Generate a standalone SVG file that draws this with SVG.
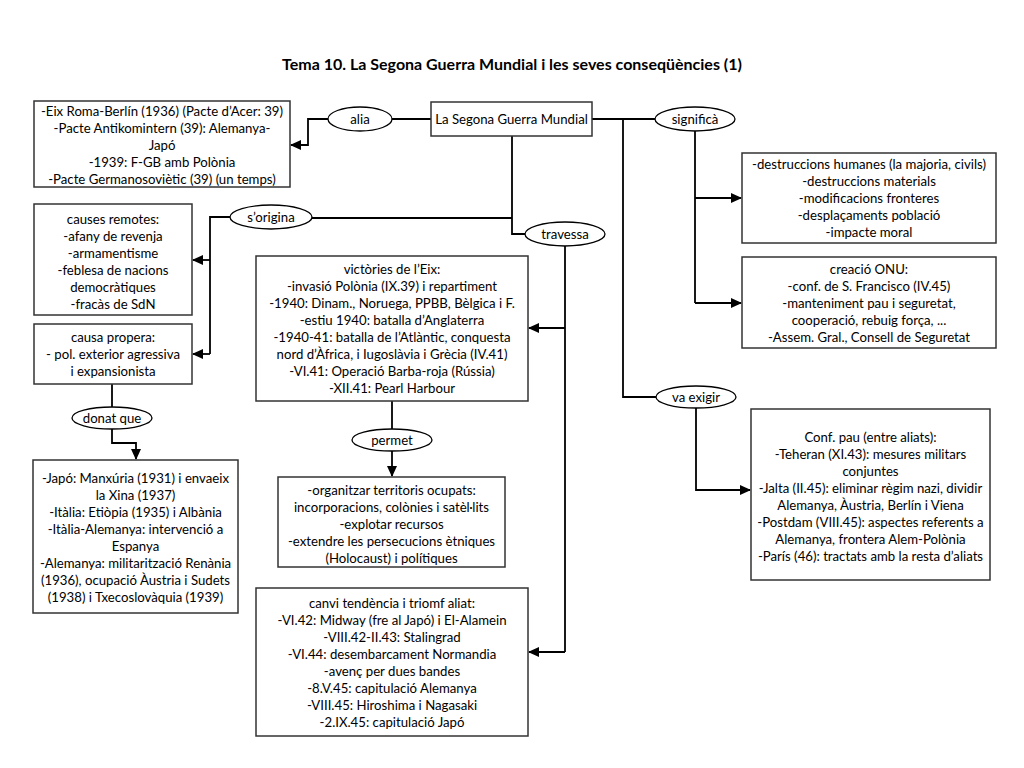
<svg xmlns="http://www.w3.org/2000/svg" width="1024" height="768" viewBox="0 0 1024 768">
<defs>
<marker id="arr" markerUnits="userSpaceOnUse" markerWidth="11" markerHeight="10" refX="10" refY="5" orient="auto">
<path d="M0,0 L11,5 L0,10 z" fill="#000"/>
</marker>
<style>
.box{fill:#fff;stroke:#333;stroke-width:1.5}
.ell{fill:#fff;stroke:#000;stroke-width:1.3}
.t{font-family:Lato,"Open Sans","Liberation Sans",sans-serif;font-size:13.2px;fill:#000;text-anchor:middle}
.title{font-family:Lato,"Open Sans","Liberation Sans",sans-serif;font-size:16px;font-weight:bold;fill:#000;text-anchor:middle}
.c{fill:none;stroke:#000;stroke-width:1.8}
.ca{fill:none;stroke:#000;stroke-width:1.8;marker-end:url(#arr)}
</style>
</defs>
<rect width="1024" height="768" fill="#fff"/>
<text class="title" x="512" y="70">Tema 10. La Segona Guerra Mundial i les seves conseqüències (1)</text>

<g id="connectors">
<path class="ca" d="M328,119 H308 V145 H291"/>
<path class="c" d="M392,119 H431"/>
<path class="c" d="M592,119 H655"/>
<path class="c" d="M623,119 V397 H656"/>
<path class="c" d="M695,131 V303"/>
<path class="ca" d="M695,198 H741"/>
<path class="ca" d="M695,303 H741"/>
<path class="ca" d="M696,408 V490 H750"/>
<path class="c" d="M512,136 V234 H525"/>
<path class="c" d="M312,218 H512"/>
<path class="c" d="M230,217 H210 V354"/>
<path class="ca" d="M210,260 H193"/>
<path class="ca" d="M210,354 H193"/>
<path class="c" d="M112,384 V407"/>
<path class="ca" d="M112,429 V443 H136 V459"/>
<path class="c" d="M565,246 V652"/>
<path class="ca" d="M565,328 H529"/>
<path class="ca" d="M565,652 H529"/>
<path class="c" d="M392,401 V429"/>
<path class="ca" d="M392,451 V476"/>
</g>

<g id="n-aliances">
<rect class="box" x="34" y="101" width="256" height="86"/>
<text class="t" x="162" y="116">-Eix Roma-Berlín (1936) (Pacte d’Acer: 39)</text>
<text class="t" x="162" y="133">-Pacte Antikomintern (39): Alemanya-</text>
<text class="t" x="162" y="150">Japó</text>
<text class="t" x="162" y="167">-1939: F-GB amb Polònia</text>
<text class="t" x="162" y="184">-Pacte Germanosoviètic (39) (un temps)</text>
</g>

<g id="e-alia">
<ellipse class="ell" cx="360" cy="119" rx="32" ry="12"/>
<text class="t" x="360" y="124">alia</text>
</g>

<g id="n-main">
<rect class="box" x="431" y="102" width="161" height="34"/>
<text class="t" x="511.5" y="124">La Segona Guerra Mundial</text>
</g>

<g id="e-significa">
<ellipse class="ell" cx="695" cy="119" rx="40" ry="12"/>
<text class="t" x="695" y="124">significà</text>
</g>

<g id="n-destruccions">
<rect class="box" x="742" y="153" width="254" height="90"/>
<text class="t" x="869" y="169">-destruccions humanes (la majoria, civils)</text>
<text class="t" x="869" y="186">-destruccions materials</text>
<text class="t" x="869" y="203">-modificacions fronteres</text>
<text class="t" x="869" y="220">-desplaçaments població</text>
<text class="t" x="869" y="237">-impacte moral</text>
</g>

<g id="n-onu">
<rect class="box" x="742" y="257" width="254" height="91"/>
<text class="t" x="869" y="274">creació ONU:</text>
<text class="t" x="869" y="291">-conf. de S. Francisco (IV.45)</text>
<text class="t" x="869" y="308">-manteniment pau i seguretat,</text>
<text class="t" x="869" y="325">cooperació, rebuig força, ...</text>
<text class="t" x="869" y="342">-Assem. Gral., Consell de Seguretat</text>
</g>

<g id="e-vaexigir">
<ellipse class="ell" cx="696" cy="397" rx="40" ry="11"/>
<text class="t" x="696" y="402">va exigir</text>
</g>

<g id="n-conf">
<rect class="box" x="751" y="409" width="239" height="171"/>
<text class="t" x="870.5" y="442">Conf. pau (entre aliats):</text>
<text class="t" x="870.5" y="459">-Teheran (XI.43): mesures militars</text>
<text class="t" x="870.5" y="476">conjuntes</text>
<text class="t" x="870.5" y="493">-Jalta (II.45): eliminar règim nazi, dividir</text>
<text class="t" x="870.5" y="510">Alemanya, Àustria, Berlín i Viena</text>
<text class="t" x="870.5" y="527">-Postdam (VIII.45): aspectes referents a</text>
<text class="t" x="870.5" y="544">Alemanya, frontera Alem-Polònia</text>
<text class="t" x="870.5" y="561">-París (46): tractats amb la resta d’aliats</text>
</g>

<g id="e-travessa">
<ellipse class="ell" cx="565" cy="234" rx="40" ry="12"/>
<text class="t" x="565" y="239">travessa</text>
</g>

<g id="e-sorigina">
<ellipse class="ell" cx="271" cy="217" rx="41" ry="12"/>
<text class="t" x="271" y="222">s’origina</text>
</g>

<g id="n-remotes">
<rect class="box" x="34" y="204" width="158" height="111"/>
<text class="t" x="113" y="224">causes remotes:</text>
<text class="t" x="113" y="241">-afany de revenja</text>
<text class="t" x="113" y="258">-armamentisme</text>
<text class="t" x="113" y="275">-feblesa de nacions</text>
<text class="t" x="113" y="292">democràtiques</text>
<text class="t" x="113" y="309">-fracàs de SdN</text>
</g>

<g id="n-propera">
<rect class="box" x="34" y="324" width="158" height="60"/>
<text class="t" x="113" y="342">causa propera:</text>
<text class="t" x="113" y="359">- pol. exterior agressiva</text>
<text class="t" x="113" y="376">i expansionista</text>
</g>

<g id="e-donatque">
<ellipse class="ell" cx="112" cy="418" rx="40" ry="11"/>
<text class="t" x="112" y="423">donat que</text>
</g>

<g id="n-japo">
<rect class="box" x="33" y="460" width="205" height="153"/>
<text class="t" x="135.5" y="483">-Japó: Manxúria (1931) i envaeix</text>
<text class="t" x="135.5" y="500">la Xina (1937)</text>
<text class="t" x="135.5" y="517">-Itàlia: Etiòpia (1935) i Albània</text>
<text class="t" x="135.5" y="534">-Itàlia-Alemanya: intervenció a</text>
<text class="t" x="135.5" y="551">Espanya</text>
<text class="t" x="135.5" y="568">-Alemanya: militarització Renània</text>
<text class="t" x="135.5" y="585">(1936), ocupació Àustria i Sudets</text>
<text class="t" x="135.5" y="602">(1938) i Txecoslovàquia (1939)</text>
</g>

<g id="n-victories">
<rect class="box" x="256" y="256" width="272" height="145"/>
<text class="t" x="392" y="274">victòries de l’Eix:</text>
<text class="t" x="392" y="291">-invasió Polònia (IX.39) i repartiment</text>
<text class="t" x="392" y="308">-1940: Dinam., Noruega, PPBB, Bèlgica i F.</text>
<text class="t" x="392" y="325">-estiu 1940: batalla d’Anglaterra</text>
<text class="t" x="392" y="342">-1940-41: batalla de l’Atlàntic, conquesta</text>
<text class="t" x="392" y="359">nord d’Àfrica, i Iugoslàvia i Grècia (IV.41)</text>
<text class="t" x="392" y="376">-VI.41: Operació Barba-roja (Rússia)</text>
<text class="t" x="392" y="393">-XII.41: Pearl Harbour</text>
</g>

<g id="e-permet">
<ellipse class="ell" cx="392" cy="440" rx="40" ry="11"/>
<text class="t" x="392" y="445">permet</text>
</g>

<g id="n-organitzar">
<rect class="box" x="278" y="477" width="227" height="90"/>
<text class="t" x="391.5" y="495">-organitzar territoris ocupats:</text>
<text class="t" x="391.5" y="512">incorporacions, colònies i satèl·lits</text>
<text class="t" x="391.5" y="529">-explotar recursos</text>
<text class="t" x="391.5" y="546">-extendre les persecucions ètniques</text>
<text class="t" x="391.5" y="563">(Holocaust) i polítiques</text>
</g>

<g id="n-canvi">
<rect class="box" x="256" y="588" width="272" height="148"/>
<text class="t" x="392" y="608">canvi tendència i triomf aliat:</text>
<text class="t" x="392" y="625">-VI.42: Midway (fre al Japó) i El-Alamein</text>
<text class="t" x="392" y="642">-VIII.42-II.43: Stalingrad</text>
<text class="t" x="392" y="659">-VI.44: desembarcament Normandia</text>
<text class="t" x="392" y="676">-avenç per dues bandes</text>
<text class="t" x="392" y="693">-8.V.45: capitulació Alemanya</text>
<text class="t" x="392" y="710">-VIII.45: Hiroshima i Nagasaki</text>
<text class="t" x="392" y="727">-2.IX.45: capitulació Japó</text>
</g>
</svg>
